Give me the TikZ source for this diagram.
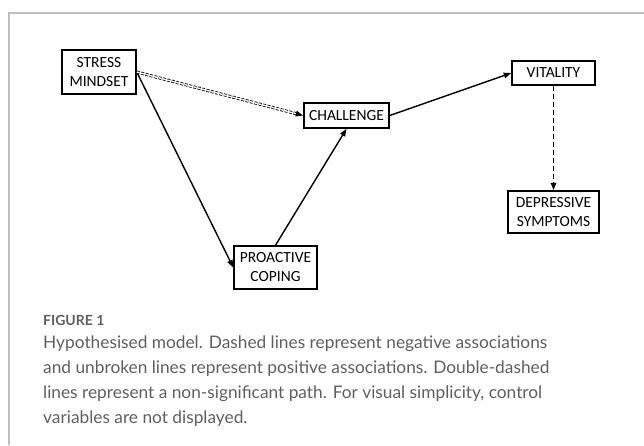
\documentclass[tikz,border=0pt]{standalone}
\usepackage{fontspec}
\usetikzlibrary{arrows.meta,calc}
\newfontfamily\boxfont{Carlito}
\newfontfamily\capfont{Lato}
\definecolor{framegray}{RGB}{190,190,190}
\definecolor{capgray}{RGB}{95,95,95}
\tikzset{
  varbox/.style={draw, line width=1.5pt, inner sep=1pt, align=center,
    font=\boxfont\fontsize{15.5}{19}\selectfont},
  path/.style={line width=1.4pt, -{Triangle[length=7.5pt,width=5.5pt]}},
  negpath/.style={path, dash pattern={on 5pt off 3pt}},
  nspath/.style={line width=0.8pt, double, double distance=1.4pt, dash pattern={on 3pt off 1.5pt}},
  captext/.style={anchor=base west, inner sep=0pt, text=capgray,
    font=\capfont\fontsize{17.3}{25}\selectfont}
}
\begin{document}
\begin{tikzpicture}[x=1pt,y=1pt,yscale=-1,xscale=1]
\useasboundingbox (0,0) rectangle (644,445);
%Frame lines
\draw [color=framegray, line width=1.5pt] (644,13) -- (9,13) -- (9,445) ;

%Shape: Rectangle [stress]
\node [varbox, minimum width=74pt, minimum height=44pt] (stress) at (99,72) {STRESS\\MINDSET};
%Shape: Rectangle [challenge]
\node [varbox, minimum width=85pt, minimum height=25pt] (challenge) at (346.5,115.5) {CHALLENGE};
%Shape: Rectangle [proactive]
\node [varbox, minimum width=83pt, minimum height=43pt] (proactive) at (275.5,267.5) {PROACTIVE\\COPING};
%Shape: Rectangle [vitality]
\node [varbox, minimum width=83pt, minimum height=24pt] (vitality) at (553.5,73) {VITALITY};
%Shape: Rectangle [depressive]
\node [varbox, minimum width=91pt, minimum height=42pt] (depressive) at (553.5,212) {DEPRESSIVE\\SYMPTOMS};

%Straight Lines
\draw [path] (stress.east) -- (proactive.west) ;
\draw [path] (proactive.north) -- (challenge.south) ;
\draw [path] (challenge.east) -- (vitality.west) ;
\draw [negpath] (vitality.south) -- (depressive.north) ;
%Double-dashed line
\draw [nspath, shorten >=6pt] (stress.east) -- (challenge.west) ;
\draw [path] ($(challenge.west)!7.5pt!(stress.east)$) -- (challenge.west) ;

% Text Node
\node [anchor=base west, inner sep=0pt, text=capgray, font=\capfont\bfseries\fontsize{14}{17}\selectfont] (figlabel) at (43,325) {FIGURE 1};
% Text Node
\node [captext] (cap1) at (43,348) {Hypothesised model. Dashed lines represent negative associations};
\node [captext] (cap2) at (43,373) {and unbroken lines represent positive associations. Double-dashed};
\node [captext] (cap3) at (43,398) {lines represent a non-significant path. For visual simplicity, control};
\node [captext] (cap4) at (43,423) {variables are not displayed.};
\end{tikzpicture}
\end{document}
